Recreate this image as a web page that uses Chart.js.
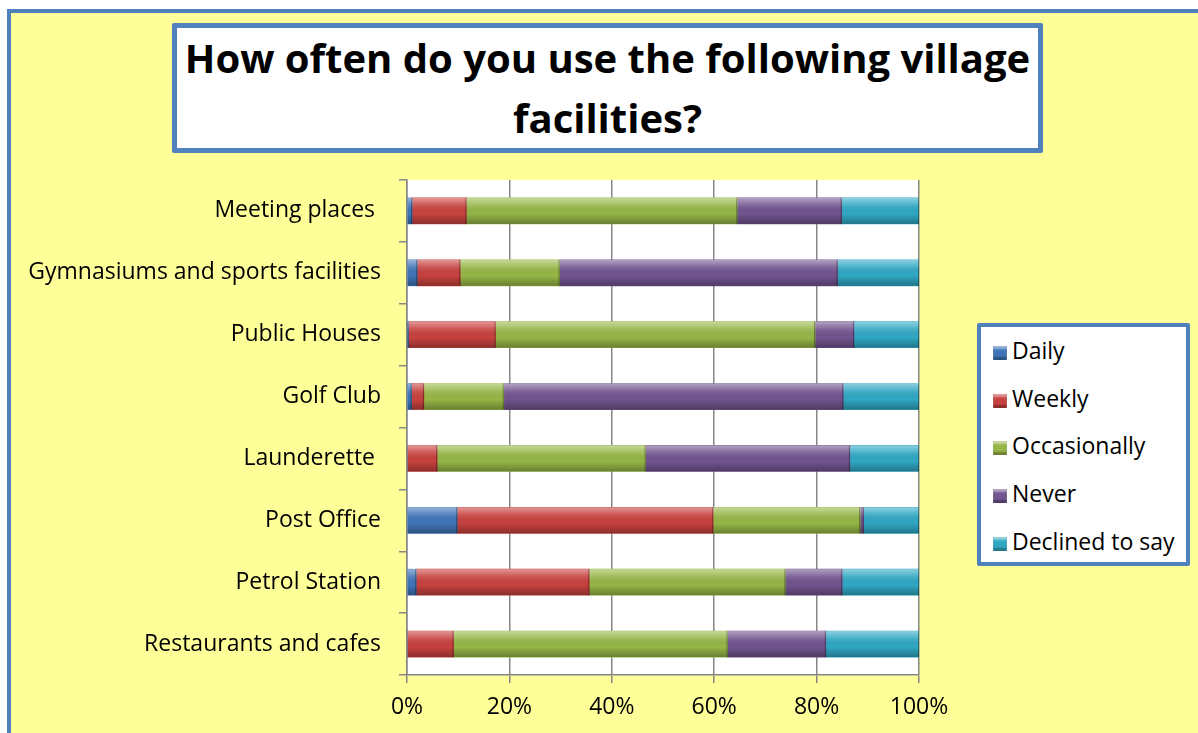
<!DOCTYPE html>
<html>
<head>
<meta charset="utf-8">
<script src="https://cdn.jsdelivr.net/npm/chart.js@4"></script>
<style>
  html, body { margin: 0; padding: 0; background: #fff; }
  body { width: 1198px; height: 733px; position: relative; overflow: hidden; font-family: "Open Sans", sans-serif; }
  #frame { position: absolute; left: 7px; top: 9px; width: 1300px; height: 800px; background: #FFFF99; border-left: 4px solid #4F81BD; border-top: 4px solid #4F81BD; }
  #chart { position: absolute; left: 0; top: 0; }
  #title { position: absolute; left: 172px; top: 23px; width: 861px; height: 120px; background: #fff; border: 5px solid #4F81BD; border-radius: 2px;
           font-weight: bold; font-size: 40px; line-height: 60px; text-align: center; color: #000; }
  #legend { position: absolute; left: 977px; top: 323px; width: 205px; height: 235px; background: #fff; border: 4px solid #4F81BD; border-radius: 2px; }
  .item { position: absolute; left: 12px; font-size: 23px; line-height: 28px; color: #000; white-space: nowrap; }
  .item span { display: inline-block; width: 14px; height: 14px; margin-right: 5px; vertical-align: -1px; box-shadow: inset 0 3px 2px rgba(255,255,255,.45), inset 0 -3px 2px rgba(0,0,0,.3); }
</style>
</head>
<body>
<div id="frame"></div>
<canvas id="chart" width="1198" height="733"></canvas>
<div id="title">How often do you use the following village<br>facilities?</div>
<div id="legend"></div>
<script>
// data (percent of respondents)
const categories = ["Meeting places ", "Gymnasiums and sports facilities", "Public Houses", "Golf Club",
                    "Launderette ", "Post Office", "Petrol Station", "Restaurants and cafes"];
const daily        = [1.0, 2.0, 0.3, 0.9, 0, 9.8, 1.8, 0];
const weekly       = [10.6, 8.4, 17.0, 2.4, 5.9, 50.0, 33.8, 9.1];
const occasionally = [52.9, 19.4, 62.4, 15.6, 40.7, 28.7, 38.3, 53.5];
const never        = [20.4, 54.3, 7.6, 66.3, 39.9, 0.7, 11.1, 19.2];
const declined     = [15.1, 15.9, 12.7, 14.8, 13.5, 10.8, 15.0, 18.2];
const xTicks = [0, 20, 40, 60, 80, 100];

const seriesNames = ["Daily", "Weekly", "Occasionally", "Never", "Declined to say"];
const seriesData = [daily, weekly, occasionally, never, declined];
const colours = ["#3F75B8", "#C8423F", "#96B747", "#72548F", "#30A8C4"];

// white plot background
const plotBg = {
  id: "plotBg",
  beforeDraw(chart) {
    const a = chart.chartArea, c = chart.ctx;
    c.save();
    c.fillStyle = "#fff";
    c.fillRect(a.left, a.top, a.right - a.left, a.bottom - a.top);
    c.restore();
  }
};

// fake bevel on the bars
const bevel = {
  id: "bevel",
  afterDatasetsDraw(chart) {
    const c = chart.ctx;
    chart.data.datasets.forEach((ds, i) => {
      chart.getDatasetMeta(i).data.forEach(el => {
        const p = el.getProps(["x", "y", "base", "height"], true);
        const left = Math.min(p.x, p.base), w = Math.abs(p.x - p.base);
        if (w < 0.5) return;
        const top = p.y - p.height / 2, h = p.height;
        c.save();
        const g = c.createLinearGradient(0, top, 0, top + h);
        g.addColorStop(0, "rgba(255,255,255,0.45)");
        g.addColorStop(0.25, "rgba(255,255,255,0.15)");
        g.addColorStop(0.6, "rgba(0,0,0,0)");
        g.addColorStop(1, "rgba(0,0,0,0.3)");
        c.fillStyle = g;
        c.fillRect(left, top, w, h);
        c.fillStyle = "rgba(0,0,0,0.35)";
        c.fillRect(left + w - 1, top, 1, h);
        c.restore();
      });
    });
  }
};

const chart = new Chart(document.getElementById("chart"), {
  type: "bar",
  data: {
    labels: categories,
    datasets: seriesNames.map((n, i) => ({
      label: n,
      data: seriesData[i],
      backgroundColor: colours[i],
      borderWidth: 0,
      barThickness: 26
    }))
  },
  options: {
    indexAxis: "y",
    responsive: false,
    animation: false,
    layout: { padding: { top: 180, right: 279, left: 0, bottom: 0 } },
    plugins: { legend: { display: false }, tooltip: { enabled: false } },
    scales: {
      x: {
        stacked: true,
        min: 0, max: 100,
        afterBuildTicks(axis) { axis.ticks = xTicks.map(v => ({ value: v })); },
        afterFit(axis) { axis.height = 58; },
        grid: { color: "#868686", lineWidth: 1.5, tickLength: 8 },
        border: { color: "#868686", width: 1.5 },
        ticks: { color: "#000", padding: 11, font: { family: "Open Sans", size: 23 }, callback: v => v + "%" }
      },
      y: {
        stacked: true,
        afterFit(axis) { axis.width = 407; },
        grid: { drawOnChartArea: false, color: "#868686", lineWidth: 1.5, tickLength: 8, offset: true },
        border: { color: "#868686", width: 1.5 },
        ticks: { color: "#000", padding: 18, font: { family: "Open Sans", size: 23 } }
      }
    }
  },
  plugins: [plotBg, bevel]
});

// legend built from the datasets
const legend = document.getElementById("legend");
chart.data.datasets.forEach((ds, i) => {
  const d = document.createElement("div");
  d.className = "item";
  d.style.top = (9 + i * 47.7) + "px";
  d.innerHTML = '<span style="background:' + ds.backgroundColor + '"></span>' + ds.label;
  legend.appendChild(d);
});
</script>
</body>
</html>
